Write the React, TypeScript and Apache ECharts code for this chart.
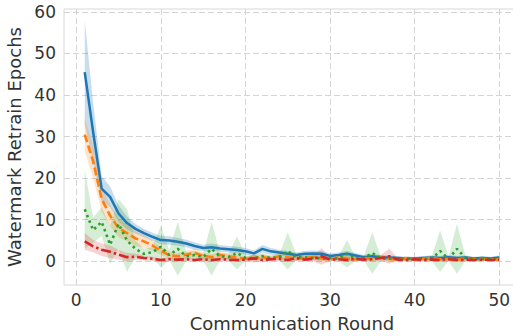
import React, { useEffect, useRef } from "react";
import * as echarts from "echarts";

// Communication rounds on the x axis
const ROUNDS = [
  1, 2, 3, 4, 5, 6, 7, 8, 9, 10, 11, 12, 13, 14, 15, 16, 17, 18, 19, 20, 21, 22, 23, 24, 25,
  26, 27, 28, 29, 30, 31, 32, 33, 34, 35, 36, 37, 38, 39, 40, 41, 42, 43, 44, 45, 46, 47, 48, 49, 50,
];

const X_TICKS = [0, 10, 20, 30, 40, 50];
const Y_TICKS = [0, 10, 20, 30, 40, 50, 60];

// Mean retrain epochs per round and half-width of the confidence band
const BLUE_MEAN = [
  45.5, 31.0, 17.5, 15.5, 11.5, 9.2, 7.8, 6.8, 5.9, 5.1, 5.0, 4.7, 4.3, 3.7, 3.2, 3.4, 3.1, 2.9, 2.7, 2.4,
  1.9, 3.0, 2.4, 2.1, 1.8, 1.5, 1.8, 1.9, 1.8, 1.3, 1.5, 1.8, 1.4, 1.0, 1.2, 1.0, 0.9, 0.8, 0.7, 0.7,
  0.8, 0.9, 0.8, 1.0, 0.8, 0.9, 0.7, 0.8, 0.7, 0.9,
];
const BLUE_CI = [
  12.5, 7.0, 3.0, 2.5, 2.0, 1.5, 1.2, 1.0, 1.0, 1.0, 1.0, 0.9, 0.9, 0.9, 0.8, 0.9, 0.8, 0.8, 0.8, 0.8,
  0.7, 0.9, 0.8, 0.7, 0.7, 0.6, 0.7, 0.7, 0.7, 0.6, 0.6, 0.7, 0.6, 0.5, 0.6, 0.5, 0.5, 0.5, 0.4, 0.4,
  0.5, 0.5, 0.5, 0.5, 0.5, 0.5, 0.4, 0.5, 0.4, 0.5,
];

const ORANGE_MEAN = [
  30.5, 24.0, 15.0, 11.0, 8.0, 6.8, 5.5, 4.8, 3.8, 2.5, 1.5, 1.2, 1.6, 2.0, 1.3, 1.0, 1.5, 1.2, 0.9, 0.6,
  0.8, 1.0, 0.7, 1.2, 1.0, 0.6, 0.8, 1.1, 0.7, 0.5, 0.9, 0.7, 0.5, 0.8, 0.6, 0.9, 0.6, 0.4, 0.7, 0.5,
  0.6, 0.8, 0.5, 0.6, 0.4, 0.7, 0.5, 0.6, 0.4, 0.5,
];
const ORANGE_CI = [
  4.0, 4.0, 3.0, 2.5, 2.2, 2.0, 1.8, 1.5, 1.2, 1.0, 0.8, 0.8, 0.9, 1.0, 0.8, 0.7, 0.8, 0.7, 0.7, 0.6,
  0.6, 0.7, 0.6, 0.8, 0.7, 0.5, 0.6, 0.7, 0.6, 0.5, 0.6, 0.6, 0.5, 0.6, 0.5, 0.6, 0.5, 0.4, 0.5, 0.4,
  0.5, 0.6, 0.4, 0.5, 0.4, 0.5, 0.4, 0.5, 0.4, 0.4,
];

const GREEN_MEAN = [
  12.5, 7.5, 9.5, 4.0, 9.0, 5.0, 3.0, 1.8, 2.2, 3.5, 1.5, 3.0, 1.2, 1.5, 1.0, 3.0, 1.2, 1.0, 2.0, 0.8,
  0.8, 1.2, 0.8, 1.0, 2.5, 1.0, 1.0, 0.8, 0.7, 0.8, 0.6, 1.8, 0.6, 0.8, 2.0, 0.6, 0.7, 0.5, 0.6, 0.5,
  0.6, 0.5, 2.5, 0.6, 3.0, 0.8, 0.5, 0.6, 0.5, 0.5,
];
const GREEN_CI = [
  9.5, 3.0, 3.5, 4.5, 6.0, 7.5, 2.0, 1.2, 1.2, 5.0, 1.2, 6.5, 1.0, 1.0, 0.8, 6.5, 0.8, 0.8, 4.0, 0.6,
  0.6, 0.8, 0.6, 0.7, 4.5, 0.7, 0.7, 0.6, 0.5, 0.6, 0.5, 3.3, 0.5, 0.6, 5.0, 0.5, 0.5, 0.4, 0.5, 0.4,
  0.5, 0.4, 5.0, 0.5, 6.0, 0.6, 0.4, 0.5, 0.4, 0.4,
];

const RED_MEAN = [
  4.8, 3.6, 2.8, 2.3, 1.6, 1.0, 1.1, 0.8, 0.6, 0.3, 0.5, 0.4, 0.5, 0.3, 0.5, 0.3, 0.5, 0.4, 0.3, 0.4,
  0.7, 0.3, 0.5, 0.6, 0.3, 0.8, 0.4, 0.6, 1.2, 0.4, 0.5, 0.3, 0.6, 0.4, 0.5, 0.8, 1.2, 0.4, 0.3, 0.5,
  0.3, 0.4, 0.3, 0.5, 0.3, 0.4, 0.3, 0.4, 0.3, 0.3,
];
const RED_CI = [
  2.0, 1.5, 1.5, 1.5, 1.2, 1.0, 0.8, 0.6, 0.5, 0.4, 0.5, 0.4, 0.5, 0.4, 0.5, 0.4, 0.5, 0.4, 0.4, 0.4,
  1.0, 0.4, 0.5, 0.6, 0.4, 0.7, 0.4, 0.6, 2.0, 0.4, 0.5, 0.4, 0.5, 0.4, 0.5, 0.7, 1.8, 0.4, 0.4, 0.5,
  0.4, 0.4, 0.4, 0.5, 0.4, 0.4, 0.4, 0.4, 0.3, 0.3,
];

const FONT = "DejaVu Sans";
const TEXT = "#333333";

type Spec = {
  name: string;
  mean: number[];
  ci: number[];
  color: string;
  band: string;
  dash: number[] | "solid";
  width: number;
};

const SPECS: Spec[] = [
  { name: "blue", mean: BLUE_MEAN, ci: BLUE_CI, color: "#1f77b4", band: "rgba(31,119,180,0.25)", dash: "solid", width: 2.5 },
  { name: "orange", mean: ORANGE_MEAN, ci: ORANGE_CI, color: "#ff7f0e", band: "rgba(255,127,14,0.22)", dash: [8, 3.5], width: 2.6 },
  { name: "green", mean: GREEN_MEAN, ci: GREEN_CI, color: "#2ca02c", band: "rgba(44,160,44,0.2)", dash: [2.5, 3.5], width: 2.6 },
  { name: "red", mean: RED_MEAN, ci: RED_CI, color: "#d62728", band: "rgba(214,39,40,0.2)", dash: [10, 3, 2.5, 3], width: 2.6 },
];

function bandSeries(s: Spec) {
  const lo = s.mean.map((m, i) => m - s.ci[i]);
  const hi = s.mean.map((m, i) => m + s.ci[i]);
  return {
    type: "custom",
    name: s.name + "-band",
    silent: true,
    z: 1,
    clip: true,
    data: ROUNDS.map((r, i) => [r, lo[i], hi[i]]),
    encode: { x: 0, y: [1, 2] },
    renderItem: (params: any, api: any) => {
      if (params.dataIndex !== 0) return null;
      const top = ROUNDS.map((r, i) => api.coord([r, hi[i]]));
      const bottom = ROUNDS.map((r, i) => api.coord([r, lo[i]])).reverse();
      return {
        type: "polygon",
        shape: { points: top.concat(bottom) },
        style: { fill: s.band, stroke: "none" },
      };
    },
  };
}

function lineSeries(s: Spec, idx: number) {
  return {
    type: "line",
    name: s.name,
    z: 3 + idx,
    showSymbol: false,
    silent: true,
    data: ROUNDS.map((r, i) => [r, s.mean[i]]),
    lineStyle: { color: s.color, width: s.width, type: s.dash },
  };
}

export default function App() {
  const ref = useRef<HTMLDivElement>(null);

  useEffect(() => {
    document.body.style.margin = "0";
    const chart = echarts.init(ref.current!, null, { renderer: "svg" });
    const gridLine = { show: true, showMinLine: false, showMaxLine: false, lineStyle: { color: "#d4d4d4", width: 1, type: [6, 3] } };
    chart.setOption({
      animation: false,
      backgroundColor: "#ffffff",
      grid: {
        show: true,
        outerBoundsMode: "none",
        containLabel: false,
        left: 64,
        top: 9,
        width: 456,
        height: 276,
        borderColor: "#d8d8d8",
        borderWidth: 1,
        backgroundColor: "transparent",
      },
      xAxis: {
        type: "value",
        min: -1.45,
        max: 52.45,
        splitNumber: 5,
        minInterval: 10,
        maxInterval: 10,
        name: "Communication Round",
        nameLocation: "middle",
        nameGap: 29,
        nameTextStyle: { fontFamily: FONT, fontSize: 18, color: TEXT },
        axisLine: { show: false },
        axisTick: { show: false },
        axisLabel: {
          showMinLabel: false,
          showMaxLabel: false,
          margin: 6,
          fontFamily: FONT,
          fontSize: 17,
          color: TEXT,
          formatter: (v: number) => (X_TICKS.includes(v) ? String(v) : ""),
        },
        splitLine: gridLine,
      },
      yAxis: {
        type: "value",
        min: -5.7,
        max: 60.7,
        splitNumber: 6,
        minInterval: 10,
        maxInterval: 10,
        name: "Watermark Retrain Epochs",
        nameLocation: "middle",
        nameGap: 37,
        nameTextStyle: { fontFamily: FONT, fontSize: 18, color: TEXT },
        axisLine: { show: false },
        axisTick: { show: false },
        axisLabel: {
          showMinLabel: false,
          showMaxLabel: false,
          margin: 8,
          fontFamily: FONT,
          fontSize: 17,
          color: TEXT,
          formatter: (v: number) => (Y_TICKS.includes(v) ? String(v) : ""),
        },
        splitLine: gridLine,
      },
      series: [...SPECS.map(bandSeries), ...SPECS.map(lineSeries)],
    });
    return () => chart.dispose();
  }, []);

  return <div ref={ref} style={{ width: 513, height: 336 }} />;
}
